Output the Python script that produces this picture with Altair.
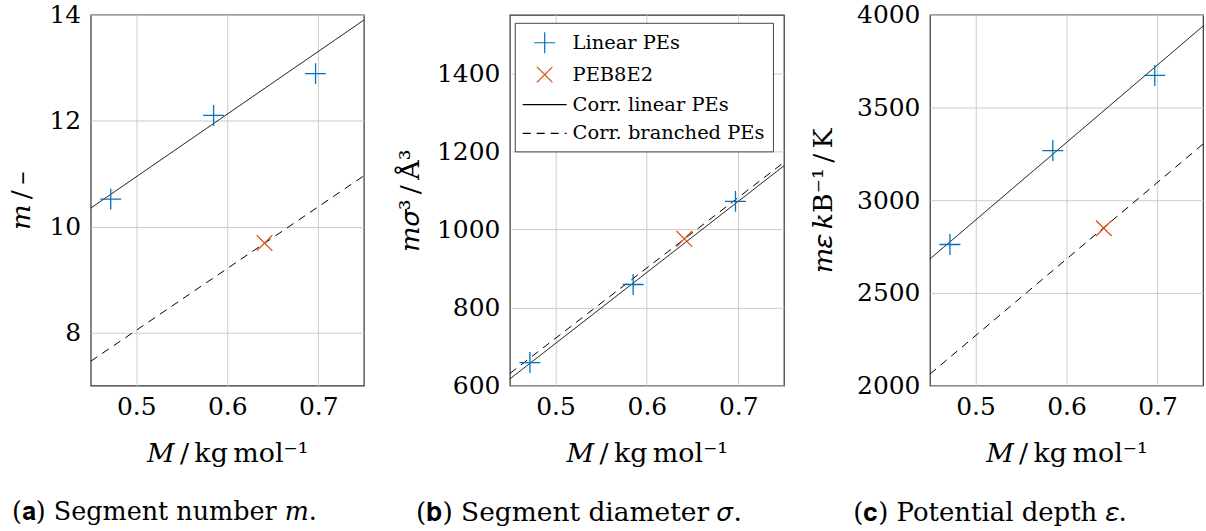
import altair as alt
import pandas as pd

FONT = "DejaVu Serif"
BLUE = "#0072BD"
ORANGE = "#D95319"

# ---- data ----
series_names = ["Linear PEs", "PEB8E2", "Corr. linear PEs", "Corr. branched PEs"]

M_linear = [0.472, 0.585, 0.697]
M_branched = [0.641]
M_corr = [0.45, 0.75]

m_linear = [10.52, 12.10, 12.89]
m_branched = [9.69]
m_corr_linear = [10.35, 13.90]
m_corr_branched = [7.46, 10.96]

sig_linear = [659, 859, 1072]
sig_branched = [976]
sig_corr_linear = [617, 1163]
sig_corr_branched = [631, 1172]

eps_linear = [2761, 3268, 3673]
eps_branched = [2849]
eps_corr_linear = [2683, 3939]
eps_corr_branched = [2062, 3303]

x_ticks = [0.5, 0.6, 0.7]
m_ticks = [8, 10, 12, 14]
sig_ticks = [600, 800, 1000, 1200, 1400]
eps_ticks = [2000, 2500, 3000, 3500, 4000]

PLUS = "M-0.955,0L0.955,0M0,-0.955L0,0.955"
CROSS = "M-0.71,-0.71L0.71,0.71M-0.71,0.71L0.71,-0.71"
LINE = "M-2,0L2,0"

color_scale = alt.Scale(domain=series_names, range=[BLUE, ORANGE, "black", "black"])
shape_scale = alt.Scale(domain=series_names, range=[PLUS, CROSS, LINE, LINE])
dash_scale = alt.Scale(domain=series_names, range=[[1, 0], [1, 0], [1, 0], [8, 6]])

X_TITLE = "𝑀\u2009/\u2009kg\u2009mol⁻¹"


def panel(lin, br, cl, cb, ydom, yticks, ytitle, caption, width, title_x, cap_dx, cap_size, show_legend):
    pts = pd.DataFrame({
        "M": M_linear + M_branched,
        "v": lin + br,
        "series": [series_names[0]] * len(lin) + [series_names[1]] * len(br),
    })
    lns = pd.DataFrame({
        "M": M_corr + M_corr,
        "v": cl + cb,
        "series": [series_names[2]] * 2 + [series_names[3]] * 2,
    })
    xenc = alt.X("M:Q", scale=alt.Scale(domain=[0.45, 0.75], nice=False, zero=False),
                 axis=alt.Axis(values=x_ticks, format=".1f", title=X_TITLE))
    yenc = alt.Y("v:Q", scale=alt.Scale(domain=ydom, nice=False, zero=False),
                 axis=alt.Axis(values=yticks, format="d", title=ytitle, titleX=title_x))
    if show_legend:
        leg = alt.Legend(title=None, orient="none", legendX=5, legendY=8,
                         fillColor="white", strokeColor="#444444", padding=8,
                         labelFont=FONT, labelFontSize=19.5, labelColor="black",
                         labelLimit=400,
                         symbolSize=484, symbolStrokeWidth=1.2, rowPadding=7,
                         labelOffset=16, symbolOffset=10, cornerRadius=0)
    else:
        leg = None
    line_layer = alt.Chart(lns).mark_line(strokeWidth=1).encode(
        x=xenc, y=yenc,
        color=alt.Color("series:N", scale=color_scale, legend=leg),
        strokeDash=alt.StrokeDash("series:N", scale=dash_scale, legend=leg),
        detail="series:N",
    )
    pt_layer = alt.Chart(pts).mark_point(filled=False, size=484, strokeWidth=1.3, opacity=1).encode(
        x=xenc, y=yenc,
        color=alt.Color("series:N", scale=color_scale, legend=leg),
        shape=alt.Shape("series:N", scale=shape_scale, legend=leg),
    )
    return alt.layer(line_layer, pt_layer).properties(
        width=width, height=372,
        title=alt.TitleParams(caption, orient="bottom", anchor="start", frame="group",
                              dx=cap_dx, offset=34, font=FONT, fontSize=cap_size,
                              fontWeight="normal", color="black"),
    )


pa = panel(m_linear, m_branched, m_corr_linear, m_corr_branched, [7, 14], m_ticks,
           "𝑚\u2009/\u2009–", "(𝐚) Segment number 𝑚.", 274, -69, -79, 25.5, False)
pb = panel(sig_linear, sig_branched, sig_corr_linear, sig_corr_branched, [600, 1550], sig_ticks,
           "𝑚𝜎³\u2009/\u2009Å³", "(𝐛) Segment diameter 𝜎.", 275, -100, -94, 26.5, True)
pc = panel(eps_linear, eps_branched, eps_corr_linear, eps_corr_branched, [2000, 4000], eps_ticks,
           "𝑚𝜀\u2009𝑘B⁻¹\u2009/\u2009K", "(𝐜) Potential depth 𝜀.", 274, -107, -77, 26, False)

chart = alt.hconcat(pa, pb, pc, spacing=146.5, bounds="flush").resolve_scale(
    color="independent", shape="independent", strokeDash="independent"
).properties(
    padding={"left": 7, "top": 1, "right": 0, "bottom": 0}
).configure_view(
    stroke="#333333", strokeWidth=1.2
).configure_axis(
    grid=True, gridColor="#cccccc", gridWidth=1, domain=False, ticks=False, tickSize=0,
    labelFont=FONT, labelFontSize=25, labelColor="black", labelPadding=10,
    titleFont=FONT, titleFontSize=27, titleColor="black", titleFontWeight="normal",
).configure_axisX(
    titlePadding=21, labelPadding=9
).configure_axisY(
    titleBaseline="middle"
)

chart.save("out.html", embed_options={"renderer": "svg", "actions": False})
